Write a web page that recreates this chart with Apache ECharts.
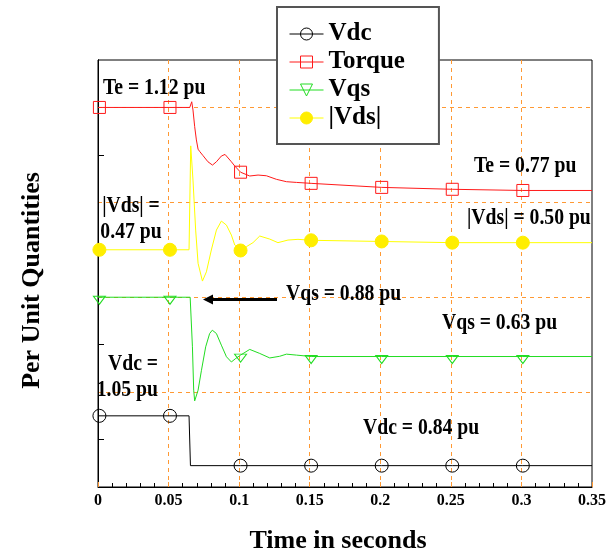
<!DOCTYPE html>
<html>
<head>
<meta charset="utf-8">
<script src="https://cdn.jsdelivr.net/npm/echarts@6/dist/echarts.min.js"></script>
<style>
  html, body { margin: 0; padding: 0; background: #fff; }
  #chart { width: 615px; height: 556px; }
</style>
</head>
<body>
<div id="chart"></div>
<script>
// Drive response after a DC-link drop: per-unit traces over time (s).
const seriesNames = ['Vdc', 'Torque', 'Vqs', '|Vds|'];

// Times at which each trace carries a marker symbol
const markerTimes = [0.001, 0.051, 0.101, 0.151, 0.201, 0.251, 0.301];

// DC-link voltage, pu
const vdcTime = [0, 0.001, 0.051, 0.0645, 0.0655, 0.101, 0.151, 0.201, 0.251, 0.301, 0.35];
const vdcPu   = [1.05, 1.05, 1.05, 1.05, 0.84, 0.84, 0.84, 0.84, 0.84, 0.84, 0.84];

// Electromagnetic torque, pu
const teTime = [0, 0.001, 0.051, 0.0650, 0.0664, 0.0673, 0.0685, 0.0697, 0.0709, 0.0721, 0.0744,
  0.0779, 0.0811, 0.0839, 0.0874, 0.0900, 0.0945, 0.0969, 0.101, 0.1075, 0.1134, 0.1193,
  0.1264, 0.1335, 0.1406, 0.151, 0.201, 0.251, 0.301, 0.35];
const tePu = [1.12, 1.12, 1.12, 1.12, 1.144, 1.109, 1.039, 0.983, 0.944, 0.934, 0.917,
  0.891, 0.877, 0.891, 0.915, 0.922, 0.891, 0.873, 0.847, 0.831, 0.835, 0.832,
  0.817, 0.807, 0.804, 0.80, 0.783, 0.775, 0.77, 0.77];

// q-axis stator voltage, pu
const vqsTime = [0, 0.001, 0.051, 0.0653, 0.0669, 0.0678, 0.0685, 0.0709, 0.0733, 0.0763, 0.0791,
  0.0810, 0.0839, 0.0874, 0.0910, 0.0945, 0.0976, 0.101, 0.1075, 0.1146, 0.1217, 0.1287,
  0.1335, 0.1406, 0.151, 0.201, 0.251, 0.301, 0.35];
const vqsPu = [0.88, 0.88, 0.88, 0.88, 0.671, 0.488, 0.443, 0.488, 0.572, 0.671, 0.727,
  0.741, 0.727, 0.678, 0.629, 0.607, 0.622, 0.636, 0.660, 0.643, 0.624, 0.631,
  0.640, 0.636, 0.63, 0.63, 0.63, 0.63, 0.63];

// d-axis stator voltage magnitude, pu
const vdsTime = [0, 0.001, 0.051, 0.0645, 0.0657, 0.0673, 0.0692, 0.0709, 0.0740, 0.0768, 0.0803,
  0.0839, 0.0874, 0.0910, 0.0945, 0.0969, 0.101, 0.1051, 0.1098, 0.1146, 0.1217, 0.1275,
  0.1346, 0.1417, 0.151, 0.201, 0.251, 0.301, 0.35];
const vdsPu = [0.47, 0.47, 0.47, 0.47, 0.908, 0.764, 0.553, 0.413, 0.338, 0.377, 0.469,
  0.553, 0.591, 0.574, 0.532, 0.490, 0.467, 0.483, 0.500, 0.528, 0.515, 0.500,
  0.511, 0.514, 0.51, 0.505, 0.50, 0.50, 0.50];

// Vertical shift applied to each trace so the four stack in one frame
const traceOffsets = [-0.75, 0.48, -0.08, 0.53];

// Short left-edge ticks between the dashed grid rows
const yMinorTicks = [0.2, 0.6, 1.0, 1.4];

const traceTimes = [vdcTime, teTime, vqsTime, vdsTime];
const traceValues = [vdcPu, tePu, vqsPu, vdsPu];

const serif = '"Liberation Serif", "Times New Roman", serif';
const gridOrange = '#ff9933';

function buildData(times, values, offset) {
  return times.map(function (t, k) {
    const item = { value: [t, +(values[k] + offset).toFixed(4)] };
    if (markerTimes.indexOf(t) < 0) item.symbol = 'none';
    return item;
  });
}

const traceStyles = [
  { color: '#000000', symbol: 'circle', size: 13, fill: 'rgba(0,0,0,0)', rotate: 0, offset: [0, 0] },
  { color: '#ff1a1a', symbol: 'rect', size: 12, fill: 'rgba(0,0,0,0)', rotate: 0, offset: [0, 0] },
  { color: '#22dd22', symbol: 'triangle', size: [12, 8], fill: 'rgba(0,0,0,0)', rotate: 180, offset: [0, 3] },
  { color: '#ffff00', symbol: 'circle', size: 13, fill: '#ffee00', rotate: 0, offset: [0, 0] }
];

const series = seriesNames.map(function (name, i) {
  const st = traceStyles[i];
  return {
    name: name,
    type: 'line',
    yAxisIndex: 0,
    data: buildData(traceTimes[i], traceValues[i], traceOffsets[i]),
    symbol: st.symbol,
    symbolSize: st.size,
    symbolRotate: st.rotate,
    symbolOffset: st.offset,
    showSymbol: true,
    smooth: false,
    silent: true,
    lineStyle: { color: st.color, width: 1 },
    itemStyle: { color: st.fill, borderColor: i === 3 ? '#ffee00' : st.color, borderWidth: 1 },
    z: 2
  };
});

function note(text, x, y, align) {
  return {
    type: 'text',
    x: x,
    y: y,
    scaleX: 0.82,
    z: 20,
    style: {
      text: text,
      fill: '#000',
      font: 'bold 24px ' + serif,
      lineHeight: 26,
      align: align || 'left',
      verticalAlign: 'middle'
    }
  };
}

const chart = echarts.init(document.getElementById('chart'), null, { renderer: 'canvas' });

chart.setOption({
  animation: false,
  backgroundColor: '#fff',
  grid: {
    left: 98, right: 23, top: 60, bottom: 69,
    outerBoundsMode: 'none',
    show: true, borderColor: '#000', borderWidth: 1, backgroundColor: 'transparent'
  },
  legend: {
    orient: 'vertical',
    left: 277, top: 7,
    padding: [13, 34, 12, 12],
    itemWidth: 34, itemHeight: 15, itemGap: 0,
    backgroundColor: '#fff',
    borderColor: '#555', borderWidth: 2,
    selectedMode: false,
    itemStyle: { borderWidth: 1 },
    lineStyle: { width: 1 },
    textStyle: { fontFamily: serif, fontSize: 25, fontWeight: 'bold', color: '#000', lineHeight: 28 },
    data: seriesNames,
    z: 30
  },
  xAxis: {
    type: 'value',
    min: 0, max: 0.35, interval: 0.05,
    name: 'Time in seconds',
    nameLocation: 'middle',
    nameGap: 41,
    nameTextStyle: { fontFamily: serif, fontSize: 26, fontWeight: 'bold', color: '#000', padding: [0, 14, 0, 0] },
    axisLine: { lineStyle: { color: '#000', width: 1 } },
    axisTick: { show: true, inside: true, length: 5, lineStyle: { color: gridOrange } },
    minorTick: { show: true, splitNumber: 5, length: 4, lineStyle: { color: '#000', width: 1 } },
    axisLabel: { fontFamily: serif, fontSize: 16, fontWeight: 'bold', color: '#000', margin: 6 },
    splitLine: { show: true, showMinLine: false, showMaxLine: false,
      lineStyle: { color: gridOrange, type: [4, 4], width: 1 } }
  },
  yAxis: [
    {
      // value axis carrying the traces and the dashed grid rows
      type: 'value',
      min: 0, max: 1.8, interval: 0.4,
      name: 'Per Unit Quantities',
      nameLocation: 'middle',
      nameGap: 53,
      nameTextStyle: { fontFamily: serif, fontSize: 26, fontWeight: 'bold', color: '#000', padding: [0, 14, 0, 0] },
      axisLine: { show: true, lineStyle: { color: '#000', width: 1 } },
      axisTick: { show: false },
      axisLabel: { show: false },
      splitLine: { show: true, showMinLine: false, showMaxLine: false,
        lineStyle: { color: gridOrange, type: [4, 4], width: 1 } }
    },
    {
      // same scale, only the short inner ticks
      type: 'value',
      position: 'left',
      offset: 0,
      min: 0, max: 1.8, interval: 0.2,
      axisLine: { show: true, lineStyle: { color: '#000', width: 1 } },
      axisTick: { show: true, inside: true, length: 6, customValues: yMinorTicks,
        lineStyle: { color: '#000', width: 1 } },
      axisLabel: { show: false },
      splitLine: { show: false }
    }
  ],
  series: series,
  graphic: [
    note('Te = 1.12 pu', 103, 88),
    note('Te = 0.77 pu', 474, 166),
    note('|Vds| =\n0.47 pu', 131, 219, 'center'),
    note('|Vds| = 0.50 pu', 467, 218),
    note('Vqs = 0.88 pu', 286, 294),
    note('Vqs = 0.63 pu', 442, 323),
    note('Vdc =\n1.05 pu', 158, 377, 'right'),
    note('Vdc = 0.84 pu', 363, 428),
    // arrow pointing at the pre-fault Vqs level
    { type: 'line', z: 20, shape: { x1: 277, y1: 299.5, x2: 211, y2: 299.5 },
      style: { stroke: '#000', lineWidth: 3 } },
    { type: 'polygon', z: 20, shape: { points: [[203, 299.5], [213, 294.5], [213, 304.5]] },
      style: { fill: '#000' } }
  ]
});
</script>
</body>
</html>
